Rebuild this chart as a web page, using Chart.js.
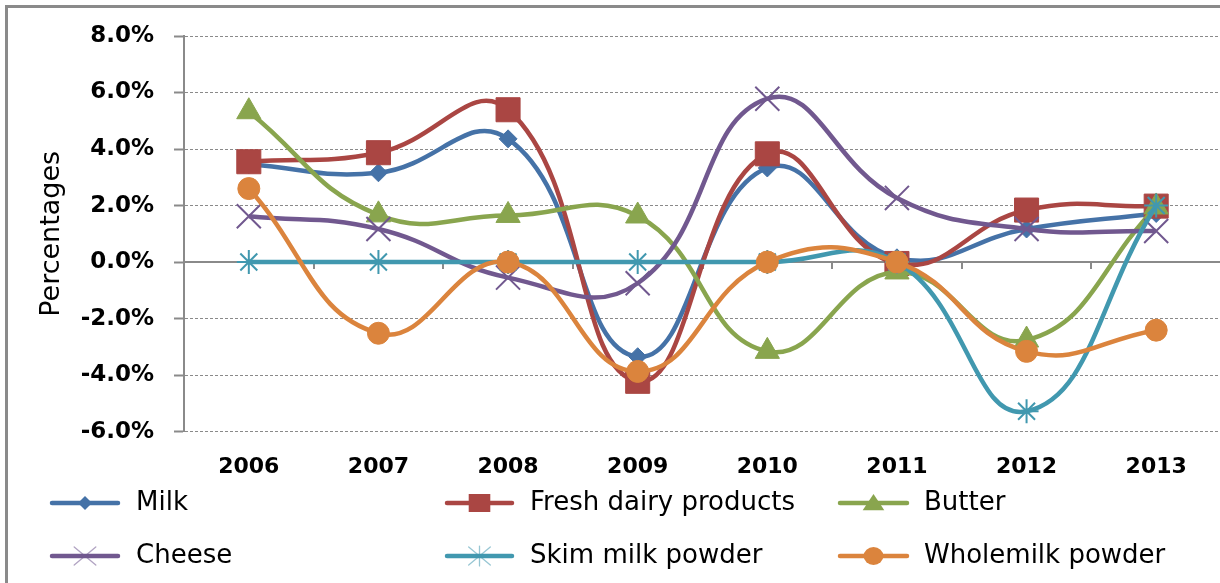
<!DOCTYPE html>
<html>
<head>
<meta charset="utf-8">
<title>Dairy price changes 2006-2013</title>
<script src="https://cdn.jsdelivr.net/npm/chart.js@4"></script>
<style>
  html, body { margin: 0; padding: 0; background: #fff; overflow: hidden; }
  #wrap { width: 1220px; height: 583px; overflow: hidden; }
  #c { display: block; }
</style>
</head>
<body>
<div id="wrap"><canvas id="c" width="1240" height="583"></canvas></div>
<script>
// Years on the category axis
const years = ['2006', '2007', '2008', '2009', '2010', '2011', '2012', '2013'];

// Annual change per product, in percent
const milk          = [3.45, 3.16, 4.36, -3.35, 3.33, 0.15, 1.17, 1.72];
const freshDairy    = [3.55, 3.87, 5.39, -4.22, 3.83, -0.05, 1.84, 1.98];
const butter        = [5.32, 1.67, 1.65, 1.63, -3.16, -0.35, -2.76, 1.95];
const cheese        = [1.62, 1.17, -0.55, -0.75, 5.78, 2.27, 1.17, 1.10];
const skimMilk      = [0.00, 0.00, 0.00, 0.00, 0.00, 0.00, -5.28, 2.00];
const wholemilk     = [2.60, -2.52, 0.00, -3.87, 0.00, 0.00, -3.16, -2.41];

// Value axis range and step
const yMin = -6, yMax = 8, yStep = 2;

const seriesNames = ['Milk', 'Fresh dairy products', 'Butter', 'Cheese', 'Skim milk powder', 'Wholemilk powder'];
const seriesData  = [milk, freshDairy, butter, cheese, skimMilk, wholemilk];
const colors      = ['#4572A7', '#AA4643', '#89A54E', '#71588F', '#4198AF', '#DB843D'];
const pointStyles = ['rectRot', 'rect', 'triangle', 'crossRot', 'star', 'circle'];
const pointRadii  = [9, 17, 14, 17, 12, 11];

const FONT = 'DejaVu Sans';

const datasets = seriesNames.map((name, i) => ({
  label: name,
  data: seriesData[i],
  borderColor: colors[i],
  backgroundColor: colors[i],
  borderWidth: 4.5,
  tension: 0.45,
  pointStyle: pointStyles[i],
  pointRadius: pointRadii[i],
  pointHoverRadius: pointRadii[i],
  pointBackgroundColor: colors[i],
  pointBorderColor: colors[i],
  pointBorderWidth: (pointStyles[i] === 'crossRot' || pointStyles[i] === 'star') ? 2 : 1,
  // later series are painted over earlier ones
  order: seriesNames.length - i,
  clip: false
}));

// Outer frame along the top and left edges
const frame = {
  id: 'frame',
  beforeDraw(chart) {
    const { ctx, width, height } = chart;
    ctx.save();
    ctx.strokeStyle = '#8a8a8a';
    ctx.lineWidth = 3;
    ctx.beginPath();
    ctx.moveTo(6.5, height + 5);
    ctx.lineTo(6.5, 6.5);
    ctx.lineTo(width + 5, 6.5);
    ctx.stroke();
    ctx.restore();
  }
};

// Solid zero line with category tick marks hanging below it
const zeroAxis = {
  id: 'zeroAxis',
  beforeDatasetsDraw(chart) {
    const { ctx, chartArea, scales: { x, y } } = chart;
    const y0 = Math.round(y.getPixelForValue(0));
    ctx.save();
    ctx.strokeStyle = '#8a8a8a';
    ctx.lineWidth = 2;
    ctx.beginPath();
    ctx.moveTo(chartArea.left, y0);
    ctx.lineTo(chartArea.right, y0);
    ctx.stroke();
    ctx.beginPath();
    for (let i = 1; i <= years.length; i++) {
      const xb = Math.round(x.getPixelForValue(i - 0.5));
      ctx.moveTo(xb, y0);
      ctx.lineTo(xb, y0 + 7);
    }
    ctx.stroke();
    ctx.restore();
  }
};

function drawMarker(ctx, style, color, cx, cy, r) {
  ctx.save();
  ctx.fillStyle = color;
  ctx.strokeStyle = color;
  ctx.beginPath();
  if (style === 'rectRot') {
    ctx.moveTo(cx, cy - r); ctx.lineTo(cx + r, cy); ctx.lineTo(cx, cy + r); ctx.lineTo(cx - r, cy);
    ctx.closePath(); ctx.fill();
  } else if (style === 'rect') {
    ctx.rect(cx - r * 1.2, cy - r, r * 2.4, r * 2); ctx.fill();
  } else if (style === 'triangle') {
    ctx.moveTo(cx, cy - r); ctx.lineTo(cx + r * 1.2, cy + r * 0.8); ctx.lineTo(cx - r * 1.2, cy + r * 0.8);
    ctx.closePath(); ctx.fill();
  } else if (style === 'circle') {
    ctx.ellipse(cx, cy, r * 1.1, r, 0, 0, Math.PI * 2); ctx.fill();
  } else if (style === 'crossRot') {
    ctx.globalAlpha = 0.55; ctx.lineWidth = 1.3;
    ctx.moveTo(cx - r * 1.2, cy - r); ctx.lineTo(cx + r * 1.2, cy + r);
    ctx.moveTo(cx + r * 1.2, cy - r); ctx.lineTo(cx - r * 1.2, cy + r);
    ctx.stroke();
  } else if (style === 'star') {
    ctx.globalAlpha = 0.55; ctx.lineWidth = 1.3;
    ctx.moveTo(cx - r * 1.2, cy - r); ctx.lineTo(cx + r * 1.2, cy + r);
    ctx.moveTo(cx + r * 1.2, cy - r); ctx.lineTo(cx - r * 1.2, cy + r);
    ctx.moveTo(cx, cy - r * 1.1); ctx.lineTo(cx, cy + r * 1.1);
    ctx.stroke();
  }
  ctx.restore();
}

// Two-row legend with a line-and-marker sample per series
const legendRows = {
  id: 'legendRows',
  afterDraw(chart) {
    const { ctx } = chart;
    const rowsY = [503, 556];
    const colLine = [[52, 118], [447, 512], [840, 907]];
    const colText = [136, 530, 924];
    const legendR = [7, 9, 9, 9, 9, 9];
    ctx.save();
    seriesNames.forEach((name, i) => {
      const row = Math.floor(i / 3), col = i % 3;
      const yy = rowsY[row];
      const [x0, x1] = colLine[col];
      ctx.strokeStyle = colors[i];
      ctx.lineWidth = 4.5;
      ctx.lineCap = 'round';
      ctx.beginPath();
      ctx.moveTo(x0, yy);
      ctx.lineTo(x1, yy);
      ctx.stroke();
      drawMarker(ctx, pointStyles[i], colors[i], (x0 + x1) / 2, yy, legendR[i]);
      ctx.fillStyle = '#000';
      ctx.font = '26px "' + FONT + '"';
      ctx.textBaseline = 'middle';
      ctx.textAlign = 'left';
      ctx.fillText(name, colText[col], yy);
    });
    ctx.restore();
  }
};

new Chart(document.getElementById('c'), {
  type: 'line',
  data: { labels: years, datasets },
  plugins: [frame, zeroAxis, legendRows],
  options: {
    responsive: false,
    animation: false,
    devicePixelRatio: 1,
    layout: { padding: { left: 6, top: 36, right: 18, bottom: 81 } },
    plugins: { legend: { display: false }, tooltip: { enabled: false } },
    scales: {
      x: {
        type: 'category',
        offset: true,
        afterFit(scale) { scale.paddingLeft = 0; scale.paddingRight = 0; },
        grid: { display: false, drawTicks: false },
        border: { display: false },
        ticks: { color: '#000', padding: 22, font: { family: FONT, size: 22, weight: 'bold' } }
      },
      y: {
        min: yMin,
        max: yMax,
        afterFit(scale) { scale.width = 178; scale.paddingTop = 0; scale.paddingBottom = 0; },
        ticks: {
          stepSize: yStep,
          color: '#000',
          padding: 20,
          font: { family: FONT, size: 23, weight: 'bold' },
          callback: v => v.toFixed(1) + '%'
        },
        grid: {
          color: '#8a8a8a',
          lineWidth: 1,
          tickColor: '#8a8a8a',
          tickWidth: 2,
          tickLength: 10,
          tickBorderDash: []
        },
        border: { display: true, color: '#8a8a8a', width: 2, dash: [3, 2] },
        title: {
          display: true,
          text: 'Percentages',
          color: '#000',
          padding: { top: 30, bottom: 0 },
          font: { family: FONT, size: 27 }
        }
      }
    }
  }
});
</script>
</body>
</html>
